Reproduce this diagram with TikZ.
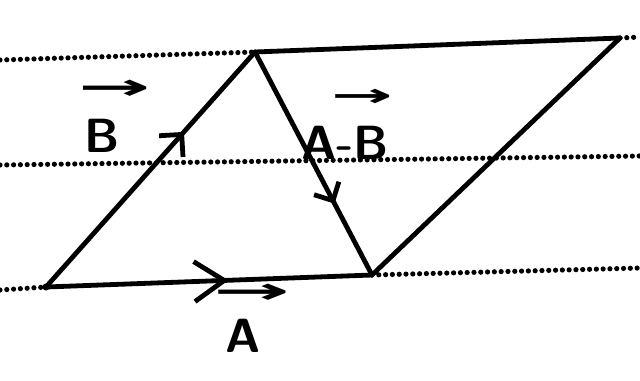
\documentclass[tikz,border=0pt]{standalone}
\usepackage{graphicx}
\usepackage{fontspec}
\newfontfamily\arrowfont{DejaVu Sans}
\newcommand{\vecarrow}[2]{{\arrowfont\bfseries\fontsize{#1}{26.5}\selectfont\scalebox{#2}[1]{→}}}
\usetikzlibrary{arrows.meta,decorations.markings}
\begin{document}
\begin{tikzpicture}[x=0.5pt,y=-0.5pt,
  edge/.style={line width=2.4pt, line cap=round, line join=round},
  ruled/.style={line width=2.6pt, line cap=round, dash pattern=on 0pt off 3.4pt},
  lbl/.style={font=\fontsize{24}{26.5}\selectfont\sffamily\bfseries, inner sep=0pt, anchor=south, align=center},
  midtip/.style 2 args={postaction={decorate}, decoration={markings, mark=at position #1 with {\arrow{#2}}}}
]
\useasboundingbox (0,0) rectangle (640,380);
% vertices
\coordinate (O) at (46,287);
\coordinate (C) at (372,275);
\coordinate (P) at (255,52);
\coordinate (Q) at (620,38);
% ruled notebook lines
\coordinate (L1a) at (0,60);
\coordinate (L1b) at (640,37);
\coordinate (L2a) at (0,165);
\coordinate (L2b) at (640,156);
\coordinate (L3a) at (0,290);
\coordinate (L3b) at (640,268);
\draw[ruled] (L1a) -- (P);
\draw[ruled] (Q) -- (L1b);
\draw[ruled] (L2a) -- (L2b);
\draw[ruled] (L3a) -- (O);
\draw[ruled] (C) -- (L3b);
% parallelogram
\draw[edge, midtip={0.56}{Straight Barb[length=15pt,width=20pt,line width=2.4pt]}] (O) -- (C);
\draw[edge, midtip={0.66}{Straight Barb[length=8pt,width=16pt,line width=2.4pt]}] (O) -- (P);
\draw[edge] (P) -- (Q);
\draw[edge] (Q) -- (C);
\draw[edge, midtip={0.68}{Straight Barb[length=7pt,width=14pt,line width=2.4pt]}] (P) -- (C);
\fill (O) circle (3.5);
% labels
\node[lbl] (lB) at (102,153) {\hspace*{13pt}\vecarrow{18}{2.4}\\ B};
\node[lbl] (lAB) at (345,160) {\hspace*{17pt}\vecarrow{16}{2.3}\\ A-B};
\node[lbl] (lA) at (243,353) {\hspace*{9pt}\vecarrow{18}{2.55}\\[-2pt] A};
\end{tikzpicture}
\end{document}
